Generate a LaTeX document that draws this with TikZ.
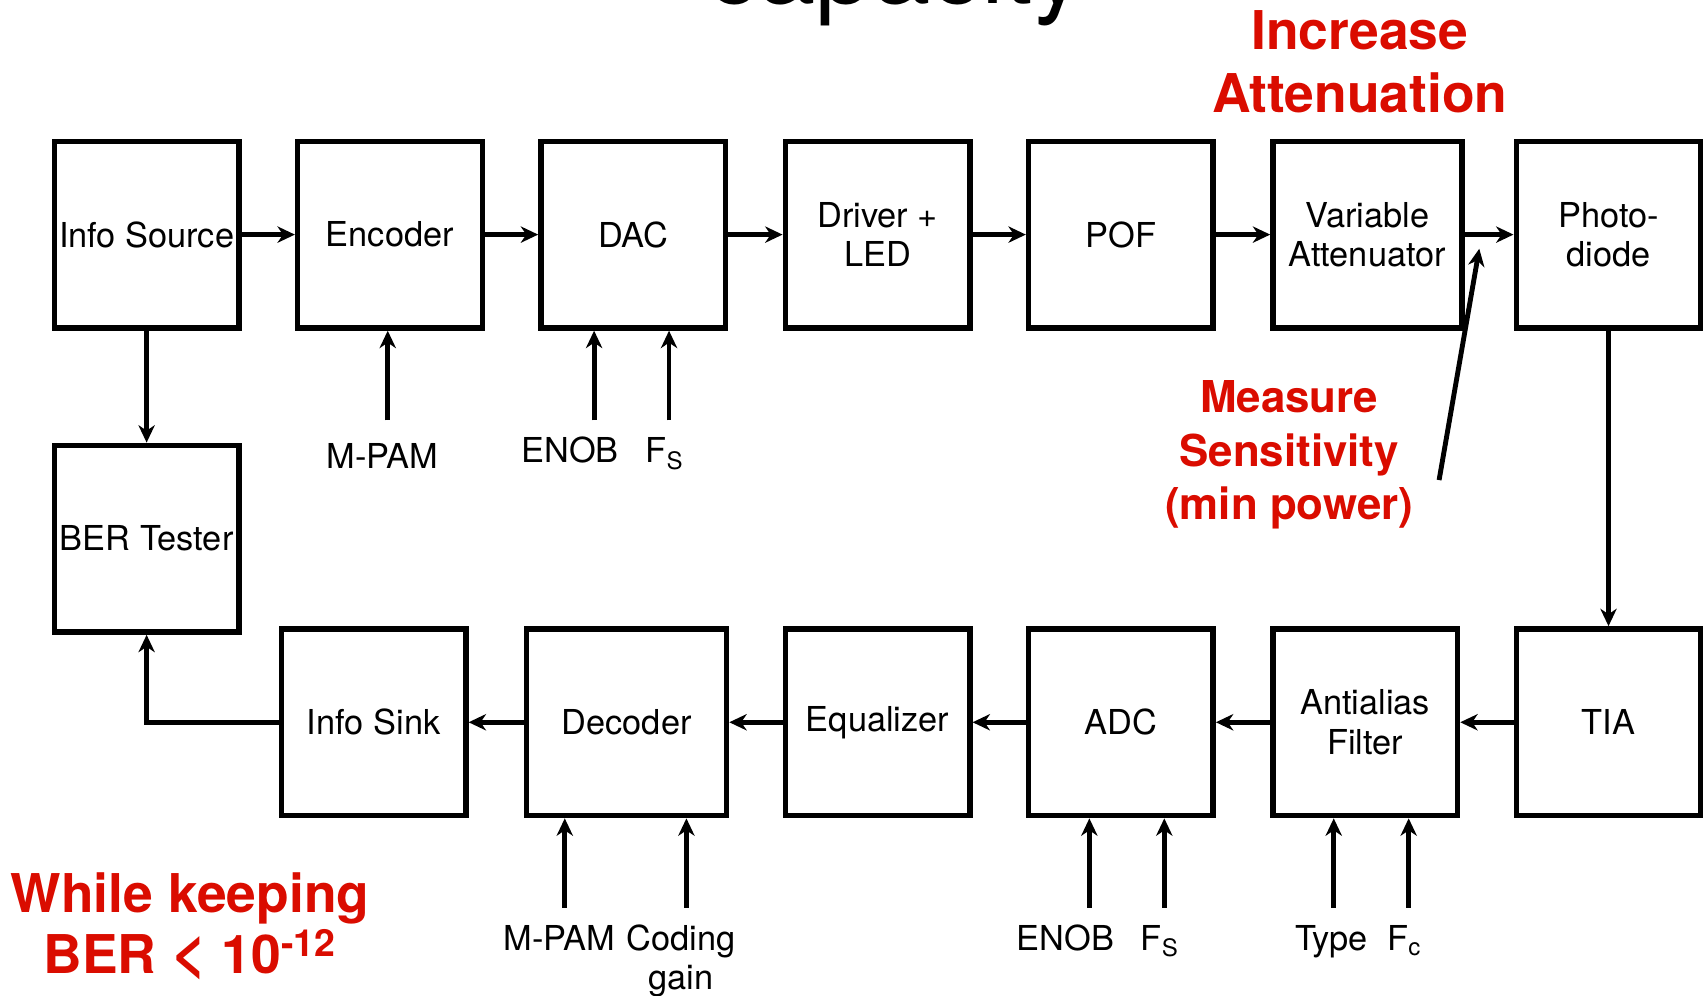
\documentclass[tikz,border=0pt]{standalone}
\usepackage{fontspec}
\setmainfont{TeX Gyre Heros}
\usepackage{tikz}
\usetikzlibrary{arrows.meta}
\definecolor{linkred}{RGB}{218,12,0}
\definecolor{linkblack}{RGB}{0,0,0}

\tikzset{
  block/.style={draw=linkblack, line width=0.1cm, minimum width=3.4cm,
    minimum height=3.44cm, inner sep=0pt, align=center,
    font=\fontsize{18}{20.5}\selectfont},
  flow/.style={-{Stealth[length=0.32cm,width=0.3cm,inset=0.1cm]}, line width=0.09cm},
  param/.style={inner sep=0pt, align=center, font=\fontsize{18}{20.5}\selectfont},
  remark/.style={text=linkred, inner sep=0pt, align=center}
}

\begin{document}
\begin{tikzpicture}[x=0.02cm, y=-0.02cm]
  \useasboundingbox (0,0) rectangle (1568,917);
  % Title, cut by the top edge
  \node[anchor=base, inner sep=0pt, font=\fontsize{54}{60}\selectfont] (title) at (825,3) {capacity};
  % Transmitter row
  \node[block] (src) at (135,216) {Info Source};
  \node[block] (enc) at (359,216) {Encoder};
  \node[block] (dac) at (583,216) {DAC};
  \node[block] (led) at (808,216) {Driver +\\LED};
  \node[block] (pof) at (1032,216) {POF};
  \node[block, minimum width=3.48cm] (att) at (1259,216) {Variable\\Attenuator};
  \node[block] (pd) at (1481,216) {Photo-\\diode};
  \node[block] (ber) at (135,496) {BER Tester};
  % Receiver row
  \node[block] (sink) at (344,665) {Info Sink};
  \node[block, minimum width=3.68cm] (dec) at (577,665) {Decoder};
  \node[block] (eq) at (808,665) {Equalizer};
  \node[block] (adc) at (1032,665) {ADC};
  \node[block] (aaf) at (1257,665) {Antialias\\Filter};
  \node[block] (tia) at (1481,665) {TIA};
  % Signal path
  \draw[flow] (src) -- (enc);
  \draw[flow] (enc) -- (dac);
  \draw[flow] (dac) -- (led);
  \draw[flow] (led) -- (pof);
  \draw[flow] (pof) -- (att);
  \draw[flow] (att) -- (pd);
  \draw[flow] (pd) -- (tia);
  \draw[flow] (tia) -- (aaf);
  \draw[flow] (aaf) -- (adc);
  \draw[flow] (adc) -- (eq);
  \draw[flow] (eq) -- (dec);
  \draw[flow] (dec) -- (sink);
  \draw[flow] (src) -- (ber);
  \draw[flow] (sink.west) -| (ber.south);
  % Parameters
  \coordinate (encM) at (357,387);
  \coordinate (dacB) at (547,387);
  \coordinate (dacF) at (616,387);
  \coordinate (decM) at (520,836);
  \coordinate (decG) at (632,836);
  \coordinate (adcB) at (1003,836);
  \coordinate (adcF) at (1072,836);
  \coordinate (aafT) at (1228,836);
  \coordinate (aafF) at (1297,836);
  \draw[flow] (encM) -- (encM |- enc.south);
  \draw[flow] (dacB) -- (dacB |- dac.south);
  \draw[flow] (dacF) -- (dacF |- dac.south);
  \draw[flow] (decM) -- (decM |- dec.south);
  \draw[flow] (decG) -- (decG |- dec.south);
  \draw[flow] (adcB) -- (adcB |- adc.south);
  \draw[flow] (adcF) -- (adcF |- adc.south);
  \draw[flow] (aafT) -- (aafT |- aaf.south);
  \draw[flow] (aafF) -- (aafF |- aaf.south);
  \node[param, anchor=base] (encPam) at (352,431) {M-PAM};
  \node[param, anchor=base] (dacEnob) at (525,426) {ENOB};
  \node[param, anchor=base] (dacFs) at (612,426) {F\textsubscript{S}};
  \node[param, anchor=base] (decPam) at (515,875) {M-PAM};
  \node[param, anchor=north] (decGain) at (627,851) {Coding\\gain};
  \node[param, anchor=base] (adcEnob) at (981,875) {ENOB};
  \node[param, anchor=base] (adcFs) at (1068,875) {F\textsubscript{S}};
  \node[param, anchor=base] (aafType) at (1226,875) {Type};
  \node[param, anchor=base] (aafFc) at (1293,875) {F\textsubscript{c}};
  % Notes
  \node[remark, font=\bfseries\fontsize{28}{33}\selectfont] (incr) at (1252,57) {Increase\\Attenuation};
  \node[remark, font=\bfseries\fontsize{23}{28}\selectfont] (sens) at (1187,419) {Measure\\Sensitivity\\(min power)};
  \node[remark, font=\bfseries\fontsize{28}{32}\selectfont] (keep) at (175,853) {While keeping\\BER {\fontsize{32}{32}\selectfont<} 10\textsuperscript{-12}};
  \coordinate (sensTail) at (1325,442);
  \coordinate (sensTip) at (1362,229);
  \draw[flow] (sensTail) -- (sensTip);
\end{tikzpicture}
\end{document}
